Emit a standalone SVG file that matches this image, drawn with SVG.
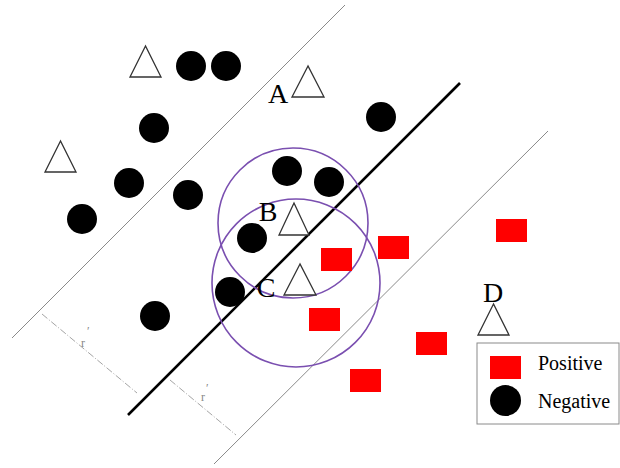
<svg xmlns="http://www.w3.org/2000/svg" width="620" height="468" viewBox="0 0 620 468">
<style>
.thin{stroke:#8a8a8a;stroke-width:1;fill:none}
.dd{stroke:#9a9a9a;stroke-width:0.9;fill:none;stroke-dasharray:7 2 1 2}
.thick{stroke:#000;stroke-width:2.6;fill:none}
.ring{stroke:#7a4fb0;stroke-width:1.6;fill:none}
.neg{fill:#000}
.pos{fill:#ff0000}
.tri{fill:#fff;stroke:#333;stroke-width:1.3}
.lbl{font-family:"Liberation Serif","Times New Roman",serif;font-size:28px;fill:#000;text-anchor:middle}
.leg{font-family:"Liberation Serif","Times New Roman",serif;font-size:20px;fill:#000}
.tiny{font-family:"Liberation Serif",serif;font-size:12px;fill:#888}
</style>
<rect width="620" height="468" fill="#fff"/>
<g id="connectors">
<line class="thin" x1="345" y1="5" x2="12" y2="338"/>
<line class="thick" x1="460" y1="83" x2="128" y2="415"/>
<line class="thin" x1="548" y1="131" x2="214" y2="464"/>
<line class="dd" x1="42" y1="314" x2="137" y2="393"/>
<line class="dd" x1="170" y1="380" x2="236" y2="435"/>
<text class="tiny" x="81" y="347">r</text><text class="tiny" x="87" y="335" font-size="7">′</text>
<text class="tiny" x="201" y="401">r</text><text class="tiny" x="206" y="392" font-size="7">′</text>
<circle class="ring" cx="293" cy="223" r="75"/>
<circle class="ring" cx="296" cy="283" r="84"/>
</g>
<g id="negatives">
<circle id="n1" class="neg" cx="191" cy="66" r="15"/>
<circle id="n2" class="neg" cx="226" cy="66" r="15"/>
<circle id="n3" class="neg" cx="154" cy="128" r="15"/>
<circle id="n4" class="neg" cx="381" cy="117" r="15"/>
<circle id="n5" class="neg" cx="129" cy="183" r="15"/>
<circle id="n6" class="neg" cx="188" cy="195" r="15"/>
<circle id="n7" class="neg" cx="82" cy="219" r="15"/>
<circle id="n8" class="neg" cx="287" cy="171" r="15"/>
<circle id="n9" class="neg" cx="329" cy="182" r="15"/>
<circle id="n10" class="neg" cx="252" cy="238" r="15"/>
<circle id="n11" class="neg" cx="230" cy="292" r="15"/>
<circle id="n12" class="neg" cx="155" cy="316" r="15"/>
</g>
<g id="positives">
<rect id="p1" class="pos" x="321" y="248" width="31" height="23"/>
<rect id="p2" class="pos" x="378" y="236" width="31" height="23"/>
<rect id="p3" class="pos" x="496" y="219" width="31" height="23"/>
<rect id="p4" class="pos" x="309" y="308" width="31" height="23"/>
<rect id="p5" class="pos" x="416" y="332" width="31" height="23"/>
<rect id="p6" class="pos" x="350" y="369" width="31" height="23"/>
</g>
<g id="triangles">
<polygon id="t1" class="tri" points="145.5,46 130,77 161,77"/>
<polygon id="t3" class="tri" points="60.5,141 45,172 76,172"/>
<g id="tA"><polygon class="tri" points="308,66 292,97 324,97"/><text class="lbl" x="278" y="103">A</text></g>
<g id="tB"><polygon class="tri" points="294,203 279,235 309,235"/><text class="lbl" x="268" y="221">B</text></g>
<g id="tC"><polygon class="tri" points="300,264 284,295 316,295"/><text class="lbl" x="266" y="297">C</text></g>
<g id="tD"><polygon class="tri" points="493.5,304 478,335 509,335"/><text class="lbl" x="493" y="302">D</text></g>
</g>
<g id="legend">
<rect x="477" y="343" width="142" height="81" fill="#fff" stroke="#8a8a8a" stroke-width="1"/>
<rect class="pos" x="490" y="356" width="31" height="23"/>
<text class="leg" x="538" y="370">Positive</text>
<circle class="neg" cx="505.5" cy="400.5" r="15.5"/>
<text class="leg" x="538" y="408">Negative</text>
</g>
</svg>
